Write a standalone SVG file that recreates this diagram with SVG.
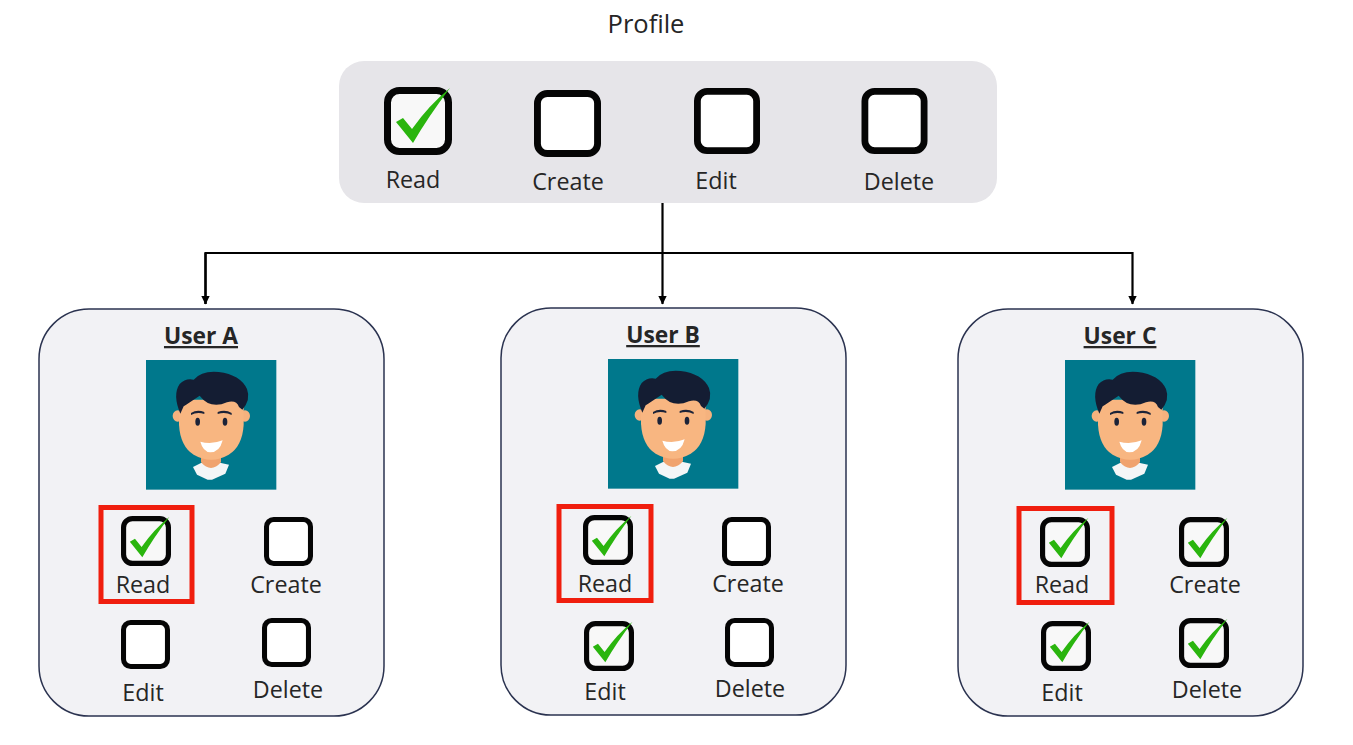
<svg xmlns="http://www.w3.org/2000/svg" width="1353" height="745" viewBox="0 0 1353 745">
<style>
text{font-family:"Open Sans","Noto Sans","Liberation Sans",sans-serif;fill:#262626;text-anchor:middle}
.lb{font-size:23.300px}
.hd{font-size:22.800px;font-weight:700;text-decoration:underline}
.card{fill:#f2f2f5;stroke:#2b3350;stroke-width:1.5}
.red{fill:none;stroke:#f01e0e;stroke-width:5}
.cx{fill:#fff;stroke:#050505;stroke-linejoin:round}
.wire{fill:none;stroke:#000;stroke-width:2.2}
</style>
<defs>
<marker id="ah" markerUnits="userSpaceOnUse" markerWidth="10" markerHeight="10" refX="8" refY="5" orient="auto"><path d="M0,0.8 L8.500,5 L0,9.200 Z" fill="#000"/></marker>
<symbol id="box" viewBox="0 0 68 68" overflow="visible"><rect class="cx" x="3.500" y="3.500" width="61" height="61" rx="10" stroke-width="7"/></symbol>
<symbol id="tick" viewBox="0 0 68 68" overflow="visible"><rect class="cx" x="3.500" y="3.500" width="61" height="61" rx="12" stroke-width="7" style="fill:#f8f8f8"/><path d="M12,35 L19,31 L28,42 Q45,18 66,1 Q44,30 29,56 Z" fill="#2ab50e"/></symbol>
<g id="face">
<rect x="47" y="31" width="391" height="389" fill="#00788c"/>
<path d="M188,352 L212,340 L272,340 L296,345 L285,372 L245,390 L232,390 L200,375 Z" fill="#f4f6f7"/>
<path d="M212,310 h60 v28 q-30,34 -60,0 Z" fill="#f0a36e"/>
<ellipse cx="142" cy="199" rx="15" ry="17" fill="#f5b27e"/><ellipse cx="344" cy="199" rx="15" ry="17" fill="#f5b27e"/>
<path d="M146,150 H340 V225 Q336,290 295,315 Q243,345 190,315 Q150,290 146,225 Z" fill="#f8b681"/>
<path d="M150,192 Q126,135 148,103 Q165,85 190,90 Q215,62 265,67 Q330,75 350,118 Q362,150 336,180 L326,172 Q318,150 290,158 Q240,180 208,138 Q175,160 160,170 Z" fill="#141d33"/>
<path d="M182,190 Q200,178 222,187 L222,193 Q200,186 182,196 Z M262,187 Q285,178 304,190 L304,196 Q285,186 262,193 Z" fill="#1c2338"/>
<ellipse cx="202" cy="216" rx="7" ry="12" fill="#1c2338"/><ellipse cx="284" cy="216" rx="7" ry="12" fill="#1c2338"/>
<path d="M210,276 Q243,286 277,272 Q268,308 240,308 Q218,306 210,276 Z" fill="#fff"/>
</g>
<g id="face130"><use href="#face" transform="scale(.33333) translate(-47,-31)"/></g>
</defs>
<rect width="1353" height="745" fill="#fff"/>
<g id="connectors">
<path class="wire" d="M662.500,203 V304" marker-end="url(#ah)"/>
<path class="wire" d="M205.500,304 V253 H1132.500 V304" marker-end="url(#ah)"/>
<path class="wire" d="M205.500,253 V304" marker-end="url(#ah)"/>
</g>
<g id="profile">
<text x="646" y="33" style="font-size:25.500px">Profile</text>
<rect x="339" y="61" width="658" height="142" rx="25" fill="#e6e5e9"/>
<use href="#tick" x="384" y="87" width="68" height="68"/>
<use href="#box" x="534" y="90" width="67" height="67"/>
<use href="#box" x="694" y="88" width="66" height="66"/>
<use href="#box" x="861" y="88" width="67" height="66"/>
<text class="lb" x="413" y="188">Read</text>
<text class="lb" x="568" y="190">Create</text>
<text class="lb" x="716" y="189">Edit</text>
<text class="lb" x="899" y="190">Delete</text>
</g>
<g id="user-a">
<rect class="card" x="39" y="309" width="345" height="407" rx="50"/>
<text class="hd" x="201" y="344">User A</text>
<use href="#face130" x="146" y="360"/>
<rect class="red" x="101" y="507.500" width="91" height="94"/>
<use href="#tick" x="121" y="516" width="50" height="50"/>
<use href="#box" x="264" y="517" width="49" height="49"/>
<use href="#box" x="121" y="620" width="49" height="49"/>
<use href="#box" x="262" y="618" width="49" height="49"/>
<text class="lb" x="143" y="593">Read</text>
<text class="lb" x="286" y="593">Create</text>
<text class="lb" x="143" y="701">Edit</text>
<text class="lb" x="288" y="698">Delete</text>
</g>
<g id="user-b">
<rect class="card" x="501" y="308" width="345" height="407" rx="50"/>
<text class="hd" x="663" y="343">User B</text>
<use href="#face130" x="608" y="359"/>
<rect class="red" x="559" y="506.500" width="92" height="94"/>
<use href="#tick" x="583" y="515" width="50" height="50"/>
<use href="#box" x="722" y="517" width="49" height="49"/>
<use href="#tick" x="584" y="621" width="50" height="50"/>
<use href="#box" x="725" y="618" width="49" height="49"/>
<text class="lb" x="605" y="592">Read</text>
<text class="lb" x="748" y="592">Create</text>
<text class="lb" x="605" y="700">Edit</text>
<text class="lb" x="750" y="697">Delete</text>
</g>
<g id="user-c">
<rect class="card" x="958" y="309" width="345" height="407" rx="50"/>
<text class="hd" x="1120" y="344">User C</text>
<use href="#face130" x="1065" y="360"/>
<rect class="red" x="1019" y="508.500" width="93" height="94"/>
<use href="#tick" x="1040" y="517" width="50" height="50"/>
<use href="#tick" x="1179" y="517" width="50" height="50"/>
<use href="#tick" x="1041" y="621" width="50" height="50"/>
<use href="#tick" x="1179" y="618" width="50" height="50"/>
<text class="lb" x="1062" y="593">Read</text>
<text class="lb" x="1205" y="593">Create</text>
<text class="lb" x="1062" y="701">Edit</text>
<text class="lb" x="1207" y="698">Delete</text>
</g>
</svg>
